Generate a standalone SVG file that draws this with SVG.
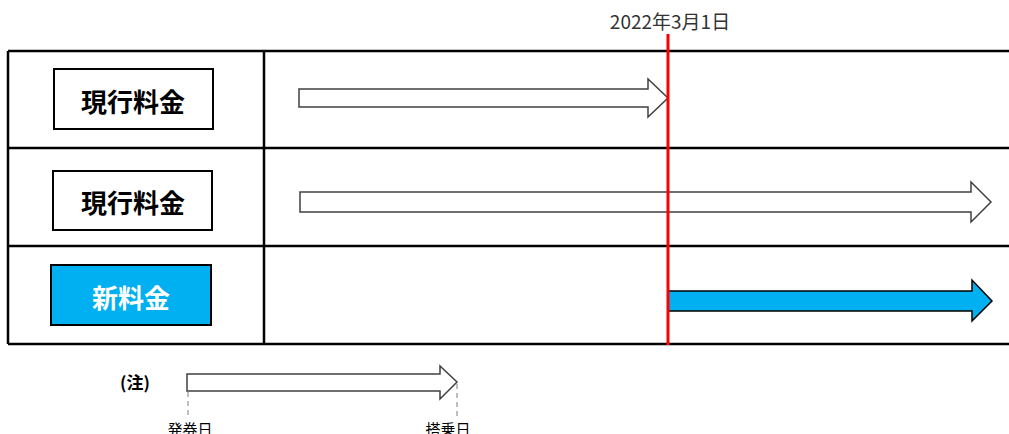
<svg xmlns="http://www.w3.org/2000/svg" width="1009" height="434" viewBox="0 0 1009 434">
<style>
.grid{stroke:#000;stroke-width:2.5;fill:none}
.box{fill:#fff;stroke:#000;stroke-width:2}
.boxb{fill:#00B0F0;stroke:#000;stroke-width:2}
.lbl{font-family:"Noto Sans CJK JP","Liberation Sans",sans-serif;font-weight:bold;font-size:26px;text-anchor:middle;dominant-baseline:central}
.arr{fill:#fff;stroke:#404040;stroke-width:1.5;stroke-linejoin:miter}
.arrb{fill:#00B0F0;stroke:#000;stroke-width:1.5}
.sm{font-family:"Noto Sans CJK JP","Liberation Sans",sans-serif;font-size:15px;fill:#000;text-anchor:middle}
.dash{stroke:#7f7f7f;stroke-width:1;stroke-dasharray:5,4}
</style>
<rect width="1009" height="434" fill="#fff"/>
<g id="table">
<path class="grid" d="M8,51 H1010 M8,148 H1010 M8,246 H1010 M8,344 H1010 M8,51 V344 M264,51 V344"/>
</g>
<g id="node-row1">
<rect class="box" x="54" y="69" width="159" height="60"/>
<text class="lbl" x="133" y="100">現行料金</text>
</g>
<g id="node-row2">
<rect class="box" x="53" y="171" width="159" height="59"/>
<text class="lbl" x="133" y="201">現行料金</text>
</g>
<g id="node-row3">
<rect class="boxb" x="51" y="265" width="160" height="60"/>
<text class="lbl" x="131" y="296" fill="#fff">新料金</text>
</g>
<g id="connectors">
<path class="arr" d="M299,89 H648 V79 L668,98 L648,117 V107 H299 Z"/>
<path class="arr" d="M300,192 H971 V182 L991,202 L971,222 V212 H300 Z"/>
<path class="arrb" d="M668,291 H972 V280 L992,301 L972,321 V311 H668 Z"/>
</g>
<g id="date-line">
<line x1="668" y1="34" x2="668" y2="345" stroke="#FF0000" stroke-width="3"/>
<text x="670" y="29" font-family="Noto Sans CJK JP, Liberation Sans, sans-serif" font-size="19" text-anchor="middle" fill="#333">2022年3月1日</text>
</g>
<g id="legend">
<text x="135" y="389" font-family="Noto Sans CJK JP, Liberation Sans, sans-serif" font-size="17" font-weight="bold" text-anchor="middle">(注)</text>
<path class="arr" d="M187,374 H440 V366 L457,382 L440,399 V391 H187 Z"/>
<line class="dash" x1="188" y1="392" x2="188" y2="418"/>
<line class="dash" x1="457" y1="384" x2="457" y2="418"/>
<text class="sm" x="190" y="435">発券日</text>
<text class="sm" x="448" y="435">搭乗日</text>
</g>
</svg>
